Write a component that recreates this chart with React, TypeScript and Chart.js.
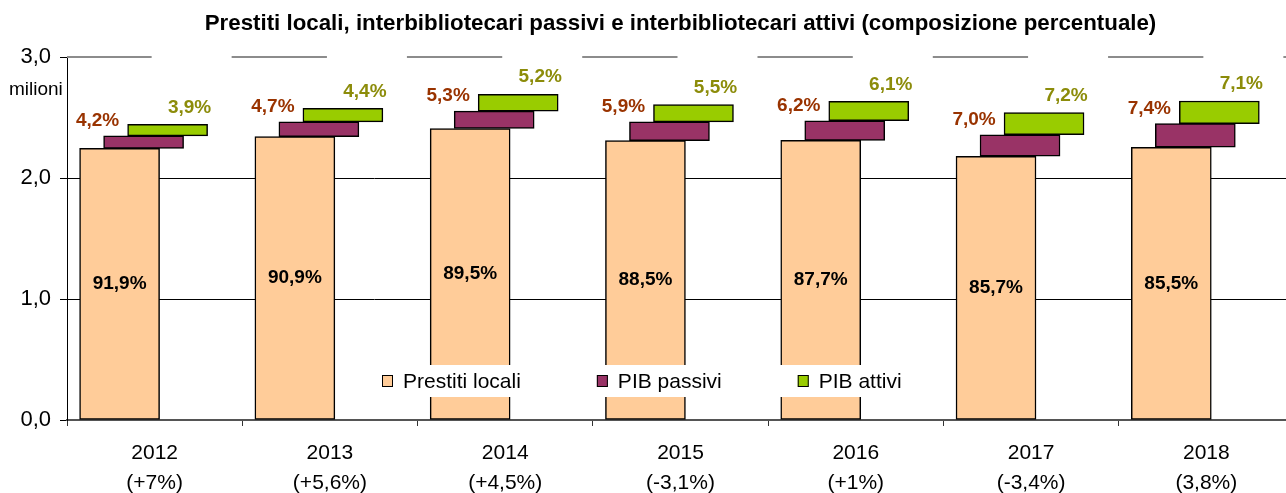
import React, { useEffect, useRef } from 'react';
import { Chart, registerables } from 'chart.js';

Chart.register(...registerables);

const years = ['2012', '2013', '2014', '2015', '2016', '2017', '2018'];
const growth = ['(+7%)', '(+5,6%)', '(+4,5%)', '(-3,1%)', '(+1%)', '(-3,4%)', '(3,8%)'];

// values in millions
const prestitiLocali = [2.247, 2.344, 2.411, 2.311, 2.312, 2.181, 2.256];
const pibPassivi = [0.103, 0.121, 0.143, 0.154, 0.163, 0.178, 0.195];
const pibAttivi = [0.095, 0.113, 0.14, 0.144, 0.161, 0.183, 0.187];

const pctLocali = ['91,9%', '90,9%', '89,5%', '88,5%', '87,7%', '85,7%', '85,5%'];
const pctPassivi = ['4,2%', '4,7%', '5,3%', '5,9%', '6,2%', '7,0%', '7,4%'];
const pctAttivi = ['3,9%', '4,4%', '5,2%', '5,5%', '6,1%', '7,2%', '7,1%'];

const seriesNames = ['Prestiti locali', 'PIB passivi', 'PIB attivi'];
const seriesColors = ['#FFCC99', '#993366', '#99CC00'];

const TITLE = 'Prestiti locali, interbibliotecari passivi e interbibliotecari attivi (composizione percentuale)';
const FONT = '"Liberation Sans", Arial, Helvetica, sans-serif';
const OFFSETS = [-0.2, -0.063, 0.074];

export default function App() {
  const ref = useRef<HTMLCanvasElement | null>(null);

  useEffect(() => {
    if (!ref.current) return;

    const locData = prestitiLocali.map((v, i) => ({ x: i + OFFSETS[0], y: [0, v] }));
    const pasData = pibPassivi.map((v, i) => ({
      x: i + OFFSETS[1],
      y: [prestitiLocali[i], prestitiLocali[i] + v],
    }));
    const attData = pibAttivi.map((v, i) => ({
      x: i + OFFSETS[2],
      y: [prestitiLocali[i] + pibPassivi[i], prestitiLocali[i] + pibPassivi[i] + v],
    }));

    const common = {
      xAxisID: 'xl',
      yAxisID: 'y',
      borderColor: '#000',
      borderWidth: 1.5,
      borderSkipped: false,
      barThickness: 80,
      grouped: false,
    };

    const decor = {
      id: 'decor',
      beforeDatasetsDraw(chart: any) {
        const { ctx, chartArea, scales } = chart;
        const y = Math.round(scales.y.getPixelForValue(3));
        const xs = scales.x;
        ctx.save();
        ctx.strokeStyle = '#8c8c8c';
        ctx.lineWidth = 2;
        let start = chartArea.left;
        for (let i = 0; i < years.length; i++) {
          const c = xs.getPixelForValue(i);
          ctx.beginPath();
          ctx.moveTo(start, y);
          ctx.lineTo(c - 3, y);
          ctx.stroke();
          start = c + 77;
        }
        ctx.beginPath();
        ctx.moveTo(start, y);
        ctx.lineTo(chartArea.right, y);
        ctx.stroke();
        ctx.restore();
      },
      afterDatasetsDraw(chart: any) {
        const ctx = chart.ctx;
        ctx.save();
        ctx.textAlign = 'center';
        ctx.textBaseline = 'middle';
        ctx.font = `bold 19px ${FONT}`;
        chart.getDatasetMeta(0).data.forEach((bar: any, i: number) => {
          ctx.fillStyle = '#000';
          ctx.fillText(pctLocali[i], bar.x, (bar.y + bar.base) / 2);
        });
        chart.getDatasetMeta(1).data.forEach((bar: any, i: number) => {
          ctx.fillStyle = '#993300';
          ctx.fillText(pctPassivi[i], bar.x - 46, bar.y - 15);
        });
        chart.getDatasetMeta(2).data.forEach((bar: any, i: number) => {
          ctx.fillStyle = '#8c8c0a';
          ctx.fillText(pctAttivi[i], bar.x + 22, bar.y - 17);
        });
        ctx.restore();
      },
      afterDraw(chart: any) {
        const { ctx, chartArea } = chart;
        ctx.save();
        // unit label
        ctx.font = `19px ${FONT}`;
        ctx.fillStyle = '#000';
        ctx.textAlign = 'left';
        ctx.textBaseline = 'middle';
        ctx.fillText('milioni', 9, chartArea.top + 33);

        // legend inside plot
        ctx.font = `21px ${FONT}`;
        const cy = chartArea.bottom - 39;
        const x0 = chartArea.left + 315;
        const widths = chart.data.datasets.map((d: any) => ctx.measureText(d.label).width);
        const total = widths.reduce((a: number, b: number) => a + b + 21, 0) + 76 * (widths.length - 1);
        ctx.fillStyle = '#fff';
        ctx.fillRect(x0 - 10, cy - 16, total + 18, 32);
        let x = x0;
        chart.data.datasets.forEach((d: any, i: number) => {
          ctx.fillStyle = d.backgroundColor;
          ctx.fillRect(x, cy - 6, 11, 12);
          ctx.strokeStyle = '#000';
          ctx.lineWidth = 1;
          ctx.strokeRect(x + 0.5, cy - 5.5, 10, 11);
          ctx.fillStyle = '#000';
          ctx.fillText(d.label, x + 21, cy + 1);
          x += 21 + widths[i] + 76;
        });
        ctx.restore();
      },
    };

    const chart = new Chart(ref.current, {
      type: 'bar',
      data: {
        labels: years.map((y, i) => [y, growth[i]]),
        datasets: [
          { ...common, label: seriesNames[0], data: locData as any, backgroundColor: seriesColors[0] },
          { ...common, label: seriesNames[1], data: pasData as any, backgroundColor: seriesColors[1] },
          { ...common, label: seriesNames[2], data: attData as any, backgroundColor: seriesColors[2] },
        ],
      } as any,
      options: {
        animation: false,
        responsive: false,
        devicePixelRatio: 1,
        layout: { padding: { left: 0, right: 0, top: 0, bottom: 0 } },
        plugins: {
          legend: { display: false },
          tooltip: { enabled: false },
          title: {
            display: true,
            text: TITLE,
            color: '#000',
            fullSize: false,
            font: { family: FONT, size: 22.3, weight: 'bold', lineHeight: 1.2 },
            padding: { top: 10.5, bottom: 20 },
          },
        },
        scales: {
          x: {
            type: 'category',
            position: 'bottom',
            offset: true,
            grid: {
              display: true,
              offset: true,
              drawOnChartArea: false,
              drawTicks: true,
              tickLength: 6,
              tickColor: '#333',
              tickWidth: 1,
            },
            border: { display: true, color: '#555', width: 2 },
            ticks: {
              color: '#000',
              font: { family: FONT, size: 21, lineHeight: 1.43 },
              padding: 12,
              maxRotation: 0,
              autoSkip: false,
            },
            afterFit: (s: any) => {
              s.height = 73;
            },
          },
          xl: {
            type: 'linear',
            display: false,
            offset: false,
            min: -0.5,
            max: 6.5,
            grid: { offset: false },
          },
          y: {
            type: 'linear',
            min: 0,
            max: 3,
            ticks: {
              stepSize: 1,
              color: '#000',
              font: { family: FONT, size: 22 },
              padding: 9,
              callback: (v: any) => Number(v).toFixed(1).replace('.', ','),
            },
            grid: {
              color: (c: any) =>
                c.tick && (c.tick.value === 1 || c.tick.value === 2) ? '#000' : 'rgba(0,0,0,0)',
              lineWidth: 1,
              drawTicks: true,
              tickLength: 7,
              tickColor: '#000',
            },
            border: { display: true, color: '#000', width: 1 },
            afterFit: (s: any) => {
              s.width = 67;
            },
          },
        },
      } as any,
      plugins: [decor],
    });

    return () => chart.destroy();
  }, []);

  return (
    <div
      style={{
        position: 'fixed',
        left: 0,
        top: 0,
        width: 1286,
        height: 493,
        overflow: 'hidden',
        background: '#fff',
      }}
    >
      <canvas ref={ref} width={1294} height={493} style={{ display: 'block', width: 1294, height: 493 }} />
    </div>
  );
}
